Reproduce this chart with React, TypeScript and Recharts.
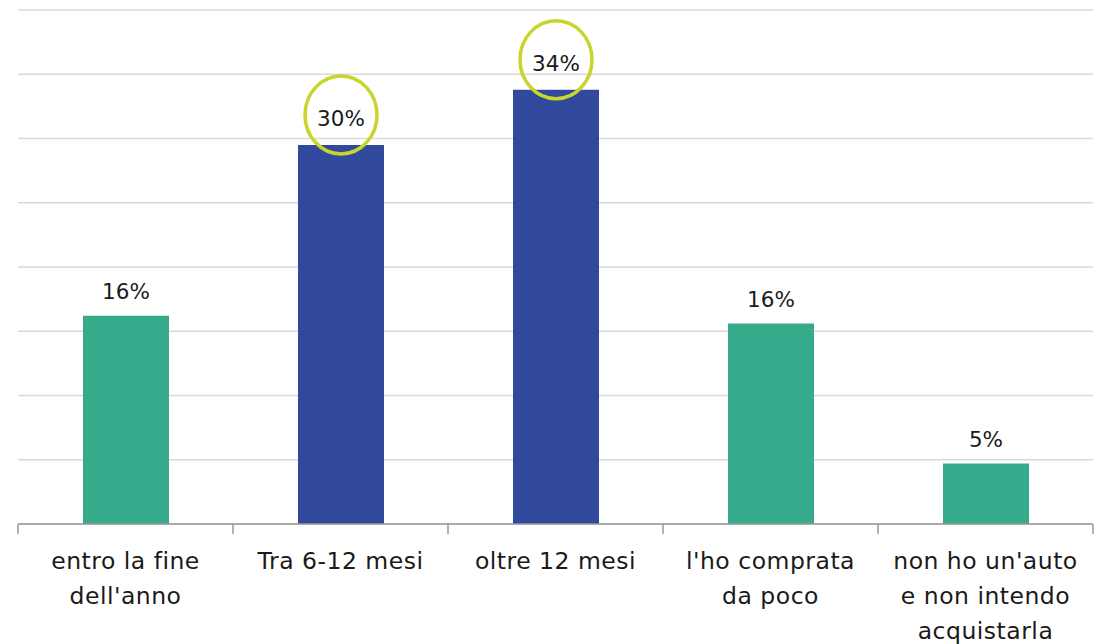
import { BarChart, Bar, XAxis, YAxis, CartesianGrid, Cell, LabelList } from "recharts";

const categories = [
  "entro la fine dell'anno",
  "Tra 6-12 mesi",
  "oltre 12 mesi",
  "l'ho comprata da poco",
  "non ho un'auto e non intendo acquistarla",
];

// how each category label is broken into lines under the axis
const tickLines = [
  ["entro la fine", "dell'anno"],
  ["Tra 6-12 mesi"],
  ["oltre 12 mesi"],
  ["l'ho comprata", "da poco"],
  ["non ho un'auto", "e non intendo", "acquistarla"],
];

const values = [16.2, 29.5, 33.8, 15.6, 4.7];
const labels = ["16%", "30%", "34%", "16%", "5%"];
const highlighted = [false, true, true, false, false];
const yTicks = [0, 5, 10, 15, 20, 25, 30, 35, 40];

const GREEN = "#36ab8b";
const BLUE = "#31499c";
const RING = "#c8d52b";
const FONT = "'DejaVu Sans', sans-serif";

const W = 1094;
const H = 644;
const M = { top: 10, right: 1, left: 18, bottom: 0 };
const BAND = (W - M.left - M.right) / categories.length;

const data = categories.map((name, i) => ({
  name,
  value: values[i],
  label: labels[i],
  hi: highlighted[i],
}));

function CategoryTick(props: any) {
  const { x, y, index, payload } = props;
  const lines = tickLines[index] ?? [payload.value];
  const half = BAND / 2;
  return (
    <g>
      <line x1={x - half} x2={x - half} y1={y - 8} y2={y + 2} stroke="#999" strokeWidth={1.5} />
      {index === categories.length - 1 && (
        <line x1={x + half} x2={x + half} y1={y - 8} y2={y + 2} stroke="#999" strokeWidth={1.5} />
      )}
      {lines.map((ln: string, i: number) => (
        <text
          key={i}
          x={x}
          y={y + 37 + i * 35}
          textAnchor="middle"
          fontFamily={FONT}
          fontSize={23.5}
          letterSpacing={0.5}
          fill="#1a1a1a"
        >
          {ln}
        </text>
      ))}
    </g>
  );
}

function ValueLabel(props: any) {
  const { x, y, width, index } = props;
  const cx = x + width / 2;
  const hi = highlighted[index];
  const ty = hi ? y - 19 : y - 17;
  return (
    <g>
      {hi && (
        <ellipse cx={cx} cy={ty - 11} rx={36} ry={39} fill="none" stroke={RING} strokeWidth={3.5} />
      )}
      <text x={cx} y={ty} textAnchor="middle" fontFamily={FONT} fontSize={21.5} fill="#1a1a1a">
        {labels[index]}
      </text>
    </g>
  );
}

export default function App() {
  return (
    <div style={{ position: "absolute", left: 0, top: 0, width: W, height: H, background: "#fff" }}>
      <BarChart width={W} height={H} data={data} margin={M} barSize={86}>
        <CartesianGrid vertical={false} stroke="#d9d9d9" strokeWidth={1.5} />
        <YAxis hide domain={[0, 40]} ticks={yTicks} />
        <XAxis
          dataKey="name"
          interval={0}
          height={120}
          tickLine={false}
          axisLine={{ stroke: "#999", strokeWidth: 1.5 }}
          tick={<CategoryTick />}
        />
        <Bar dataKey="value" isAnimationActive={false}>
          {data.map((d, i) => (
            <Cell key={i} fill={d.hi ? BLUE : GREEN} />
          ))}
          <LabelList dataKey="label" content={<ValueLabel />} />
        </Bar>
      </BarChart>
    </div>
  );
}
